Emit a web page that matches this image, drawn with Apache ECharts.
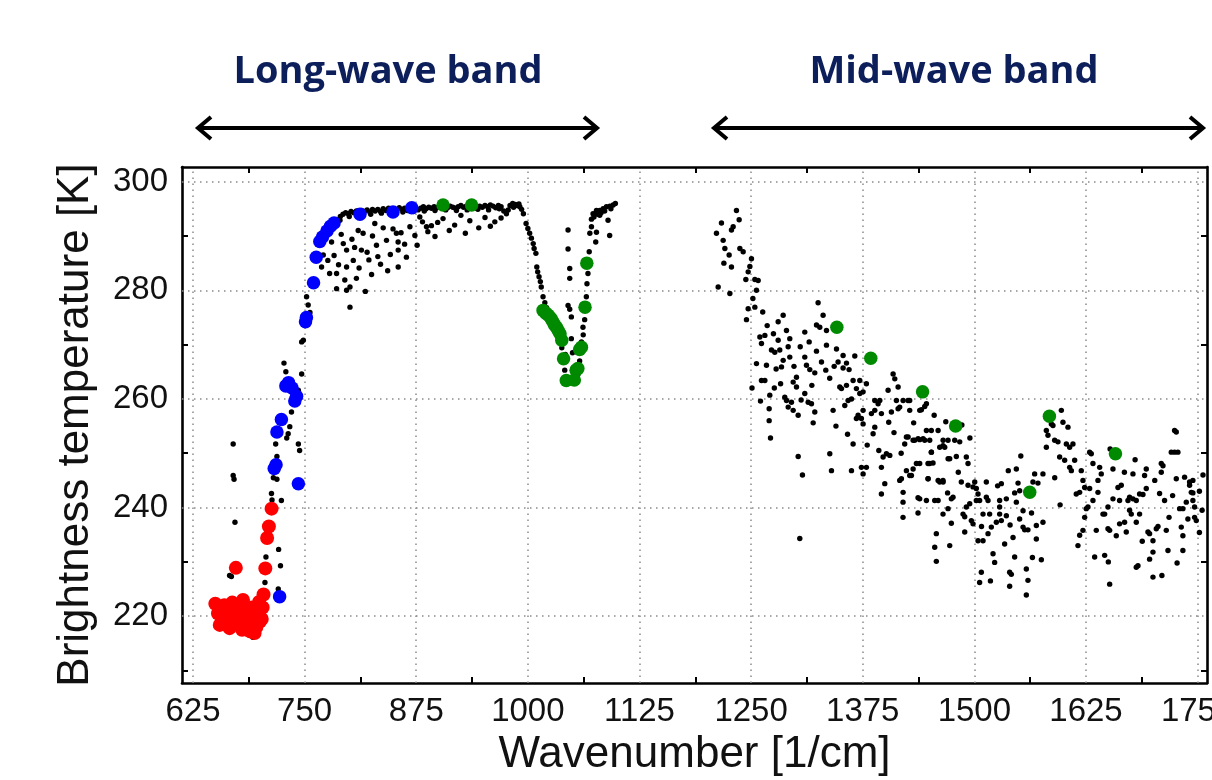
<!DOCTYPE html>
<html><head><meta charset="utf-8">
<script src="https://cdn.jsdelivr.net/npm/echarts@6/dist/echarts.min.js"></script>
<style>html,body{margin:0;padding:0;background:#fff}#c{width:1212px;height:780px}</style>
</head><body><div id="c"></div>
<script>
const X_MIN = 612.7, X_MAX = 1760.5, Y_MIN = 207.7, Y_MAX = 302.7;
const X_TICKS = [625, 750, 875, 1000, 1125, 1250, 1375, 1500, 1625, 1750];
const X_MINOR = [687.5, 812.5, 937.5, 1062.5, 1187.5, 1312.5, 1437.5, 1562.5, 1687.5];
const Y_TICKS = [220, 240, 260, 280, 300];
const Y_MINOR = [210, 230, 250, 270, 290];

const RED = [[650,222.3],[653,220.5],[655,218.4],[658,221.8],[661,219.5],[663,218.9],[665,221.6],[667,220.2],[669,222.5],[670,219.8],[672,218.6],[673,228.9],[675,221.0],[677,219.2],[679,220.6],[681,223.0],[683,221.5],[685,218.2],[687,220.0],[689,217.2],[690,219.8],[692,218.8],[694,216.9],[696,218.0],[698,220.5],[700,219.0],[702,219.5],[703,221.6],[704,224.0],[706,228.8],[708,234.4],[710,236.5],[713,239.8],[660,222.0],[666,217.8],[680,217.5],[691,221.6],[699,222.6]];

const BLUE = [[722,223.6],[743,244.4],[716,247.2],[718,247.9],[719,253.9],[724,256.2],[729,262.4],[732,263.0],[736,262.0],[739,259.6],[741,260.5],[751,274.2],[752,275.0],[760,281.4],[763,286.1],[767,289.0],[770,289.8],[775,290.9],[779,291.8],[783,292.4],[812,294.0],[849,294.4],[870,295.2]];

const GREEN = [[905,295.7],[937,295.7],[1017,276.3],[1020,275.8],[1023,275.4],[1026,274.8],[1028,274.2],[1030,273.6],[1032,273.2],[1034,272.6],[1036,272.0],[1038,270.8],[1040,267.4],[1043,263.4],[1052,263.5],[1054,265.3],[1056,265.6],[1058,269.1],[1060,269.5],[1064,276.9],[1066,285.0],[1346,273.2],[1384,267.5],[1442,261.3],[1479,255.0],[1562,242.8],[1584,256.8],[1658,249.9]];

const LW_BLACK = [[670,251.7],[670,245.9],[671,245.2],[672,237.3],[666,227.5],[668,227.3],[669,217.4],[692,216.1],[705.6,226.2],[706.7,230.9],[720.9,232.3],[723,229.3],[712.9,242.6],[713.5,241.4],[724,241.3],[715,245.5],[719,245.2],[717.6,251.7],[719,249.4],[731.6,253.6],[733.4,254.9],[730,252.8],[743,251.7],[744.4,250.5],[735.3,257.6],[726.9,266.6],[729,265.0],[746.7,264.6],[743,261.6],[744,260.2],[746.7,270.5],[748.6,270.8],[752.2,278.8],[754,277.3],[756,275.9],[751.5,275.1],[720.5,225.0],[660,218.0],[676,221.5],[684,220.3],[697,221.2],[763.5,285.5],[769,284.3],
[770.9,286.5],[780.2,288.9],[789.6,292.9],[793.3,288.6],[797,287.4],[804.5,285.5],[797,284.3],[785.8,283.1],[778,283.1],[800.8,280.6],[795,281.9],[797,280],[785.8,280.3],[800.8,276.9],[813.6,287.4],[815.5,290.5],[828.6,292.3],[830.5,288.3],[841.7,289.2],[852.8,290.5],[854.7,288.9],[854.8,287.4],[854.8,284.3],[867.9,291.7],[873.5,290.1],[879,293.5],[886.5,291.7],[888,290.8],
[935,292.8],[945,291.5],[952,293.4],[963,292.6],[905,293.2],[918,292.0],[896,289.9],[925,293.8],[808,282.2],[822,285.6],[835,284.8],[818,279.8],[846,286.6],[862,288.5],[810,291.0],[826,290.0],[838,291.5],
[776,285.5],[783,286.4],[788,284.7],[791,290.3],[803,289.4],[806,287.9],[811,284.1],[820,287.0],[825,282.9],[832,286.2],[843,283.6],[849,291.3],[858,290.6],[864,286.1],[876,288.3],[882,292.6],[892,291.9],[899,292.5],[912,291.0],[930,290.5],[958,291.8],[970,293.3],
[778,291.4],[782,292.2],[786,293.0],[790,293.6],[793,294.0],[796,294.3],[799,294.1],[802,294.5],[805,294.3],[808,294.6],[811,294.2],[814,294.7],[817,294.5],[820,294.8],[823,294.4],[826,294.9],[829,294.6],[832,294.9],[835,294.5],[838,295.0],[841,294.7],[844,295.1],[847,294.8],[850,295.0],[853,294.6],[856,295.2],[859,294.9],[862,295.1],[865,294.7],[868,295.2],[871,295.0],[874,295.3],[877,294.8],[880,295.1],[883,295.4],[886,295.0],[889,295.3],[892,295.1],[895,295.4],[898,295.2],[901,295.5],[904,295.1],[907,295.4],[910,295.2],[913,295.5],[916,295.3],[919,295.1],[922,295.4],[925,295.6],[928,295.3],[931,295.5],[934,295.2],[937,295.6],[940,295.4],[943,295.1],[946,295.5],[949,295.3],[952,295.6],[955,295.4],[958,295.7],[961,295.5],[964,295.2],[967,295.6],[970,295.4],[973,294.6],[976,294.1],[978,294.8],[980,295.6],[983,296.0],[986,295.8],[988,295.6],[991,295.4],[993,294.9],[995,294.1],[998,292.3],[1000,291.4],[1002,290.5],[1004,289.6],[1006,288.6],[1007,287.7],[1009,286.8],[1010,284.3],[1011,283.4],[1012.5,282.5],[1014,281.6],[1015,280.6],[1017,278.8],[1019,277.7],[1021,276.8],
[800,293.6],[812,293.8],[824,294.0],[836,294.2],[848,294.3],[860,294.4],[872,294.5],[884,294.6],[896,294.7],[908,294.8],[920,294.7],[932,294.8],[944,294.9],[956,294.8],[968,295.0],[984,295.3],[990,295.9],
[1045,291.1],[1045,287.6],[1046.9,284.0],[1046.9,282.2],[1045,277.2],[1046.9,276.5],[1048.7,275.1],[1048.7,271.1],[1041.3,265.3],[1050,268.5],[1038,269.4],[1042,268.2],
[1061.7,273.2],[1063.6,274.6],[1065.5,278.8],[1066.2,281.2],[1067.3,283.1],[1068.7,287.1],[1069.4,290.5],[1071.2,291.7],[1076.8,290.7],[1076,288.9],[1091.6,290.1],[1073,294.1],[1076.8,294.7],[1080.5,294.7],[1084.3,295],[1088,295.4],[1091.8,295.5],[1095.5,295.7],[1071.2,293.1],[1080.5,293.8],[1089.8,292.9],[1074,293.5],[1078,294.0],[1082,294.3],[1086,294.6],[1093,295.0],[1098,296.0],[1060,270.5],[1062,271.8],[1058,267.0],[1056,264.5]];

const MW_BLACK = [[1233.6,294.7],[1236.6,293.0],[1216.8,292.4],[1229.9,291.7],[1228.0,291.1],[1211.2,290.5],[1218.7,289.2],[1220.6,287.7],[1237.4,287.7],[1241.1,287.1],[1225.4,286.5],[1250.4,285.8],[1219.5,285.0],[1228.0,284.3],[1248.6,284.4],[1246.7,283.4],[1244.1,282.0],[1254.2,282.0],[1257.9,281.8],[1256.0,280.0],[1213.1,280.6],[1226.2,279.4],[1246.7,276.6],[1254.2,276.9],[1244.8,274.6],[1259.8,271.4],[1265.4,271.7],[1261.6,270.2],[1280.3,274.2],[1285.9,275.4],[1289.6,272.6],[1280.3,270.8],[1272.8,269.0],[1276.5,268.6],[1282.1,269.0],[1293.3,271.1],[1291.5,269.6],[1285.9,267.1],[1293.3,267.7],[1267.2,266.2],[1284.0,265.9],[1310.1,272.3],[1325.0,277.7],[1330.6,275.4],[1323.2,273.6],[1326.9,273.2],[1334.4,272.6],[1334.4,269.9],[1323.2,268.8],[1328.8,266.8],[1333.6,265.3],[1345.6,269.2],[1353.0,268.0],[1347.4,266.8],[1356.8,266.6],[1353.0,265.7],[1359.7,265.4],[1366.1,267.9],[1321.3,264.8],[1315.7,265.4],[1310.1,267.7],[1312.0,266.2],[1300.8,264.0],[1297.1,263.1],[1300.8,262.2],[1310.1,261.0],[1313.9,259.4],[1317.6,259.1],[1321.3,257.6],[1319.5,255.6],[1291.5,258.5],[1287.7,260.3],[1289.6,259.7],[1295.2,259.4],[1297.1,257.9],[1302.7,257.0],[1270.9,260.7],[1261.6,263.4],[1265.4,263.4],[1260.5,259.6],[1270.2,258.2],[1270.2,256.0],[1271.7,252.8],[1302.7,249.4],[1307.5,246.0],[1338.1,249.9],[1340.0,246.8],[1341.8,257.9],[1349.3,262.2],[1351.2,261.9],[1356.8,262.5],[1358.6,259.7],[1362.4,260.0],[1354.9,258.8],[1364.2,263.4],[1371.7,263.4],[1367.9,261.9],[1369.8,257.0],[1373.5,256.4],[1375.4,261.3],[1379.1,262.8],[1375.4,257.9],[1364.2,251.7],[1362.4,246.8],[1373.5,247.4],[1375.4,246.2],[1388.5,254.8],[1386.6,253.6],[1388.5,259.7],[1394.1,259.7],[1392.2,259.1],[1395.9,257.3],[1397.8,249.3],[1401.5,249.9],[1405.3,249.6],[1395.9,247.4],[1399.7,244.4],[1395.9,242.5],[1404.1,255.7],[1409.0,264.6],[1414.6,262.2],[1403.4,261.6],[1407.1,257.6],[1412.7,259.7],[1414.6,258.2],[1420.2,259.7],[1427.6,259.7],[1427.6,257.9],[1438.8,257.9],[1446.3,259.1],[1420.2,242.8],[1425.8,253.0],[1431.4,252.4],[1437.0,252.7],[1442.6,252.7],[1446.3,254.2],[1450.0,252.4],[1451.9,250.2],[1450.0,248.1],[1459.4,254.2],[1465.0,252.4],[1466.8,251.1],[1470.6,249.0],[1459.4,245.0],[1465.0,244.7],[1459.4,241.3],[1446.3,241.3],[1438.8,241.6],[1418.3,245.3],[1427.6,245.9],[1431.4,247.1],[1438.8,248.1],[1448.2,245.3],[1410.9,263.7],[1388.5,257.9],[1384.7,257.3],[1371.7,261.0],[1367.9,256.4],[1375.4,255.4],[1379.1,247.4],[1304.5,234.3],
[1252,278.5],[1263,276.0],[1268,273.5],[1275,272.0],[1278,265.5],[1298,266.0],[1305,269.6],[1315,270.5],[1338,263.8],[1343,266.0],[1318,262.5],[1306,259.8],[1283,262.8],[1276,262.0],[1256,266.5],[1251,262.0],[1345,255.0],[1358,253.5],[1380,251.5],[1393,250.5],[1410,253.8],[1418,250.0],[1432,255.6],[1455,257.0],[1468,255.8],[1486,255.2],[1495,252.8],[1482,246.5],[1470,242.7],[1508,236.5],[1526,244.0],[1538,246.8],[1552,249.5],[1564,239.0],[1540,236.8],[1518,226.5],[1565,230.8],[1590,245.5],[1596,240.5],[1652,250.8],[1668,246.5],[1680,248.8],[1702,245.0],[1718,238.2],[1722,242.2],[1752,243.0],[1756,246.0],[1755,239.5],[1650,230.0],[1688,233.8],[1710,227.5],[1727,229.8],[1752,235.4],
[1416.4,258.5],[1425.7,259.7],[1440.7,258.0],[1444.4,258.6],[1423.9,253.0],[1422.0,251.7],[1433.2,252.4],[1438.8,252.5],[1444.4,252.4],[1451.8,254.2],[1451.8,250.2],[1448.1,248.1],[1453.7,248.2],[1461.2,251.1],[1464.9,251.4],[1470.5,252.4],[1478.0,252.4],[1483.6,252.1],[1479.8,249.4],[1472.4,249.0],[1491.0,249.3],[1492.9,248.1],[1416.4,245.0],[1423.9,246.8],[1429.5,245.9],[1435.1,248.1],[1448.1,245.3],[1461.2,244.7],[1464.9,245.0],[1485.4,244.7],[1492.9,244.1],[1498.5,243.8],[1500.4,244.7],[1420.1,241.0],[1436.9,241.8],[1455.6,241.3],[1470.5,239.8],[1474.2,241.6],[1476.1,241.9],[1487.3,238.8],[1489.2,238.3],[1494.8,240.7],[1496.6,237.6],[1489.2,235.5],[1502.2,243.5],[1502.2,241.3],[1420.1,238.2],[1436.9,239.0],[1464.9,238.8],[1474.2,237.1],[1457.4,235.2],[1455.6,232.7],[1457.4,230.1],[1472.4,233.0],[1491.0,240.1],[1498.5,237.0],
[1504.1,242.5],[1505.9,241.3],[1513.4,244.7],[1513.4,241.9],[1515.3,241.3],[1509.7,238.8],[1517.1,238.8],[1528.3,241.3],[1535.8,241.6],[1530.2,244.4],[1547.0,247.1],[1548.9,244.5],[1550.7,243.1],[1545.1,242.7],[1528.3,238.8],[1535.8,238.5],[1524.6,237.3],[1530.2,237.6],[1519.0,236.4],[1515.3,235.2],[1509.7,233.9],[1504.1,233.9],[1507.8,228.1],[1505.9,226.2],[1520.9,231.5],[1522.7,229.9],[1533.9,233.3],[1543.3,234.5],[1545.1,230.9],[1539.5,228.1],[1541.4,227.7],[1539.5,225.5],[1554.5,236.4],[1556.3,235.9],[1560.0,235.9],[1569.4,234.2],[1558.2,228.7],[1560.0,226.6],[1558.2,223.9],[1575.0,230.4],[1569.4,236.7],[1576.8,237.3],[1567.5,246.2],[1571.2,244.5],[1576.8,246.2],[1554.5,239.4],[1550.7,237.9],[1565.6,244.7],[1547.0,241.0],[1528.3,240.1],
[1580.6,251.1],[1582.4,253.3],[1580.6,254.2],[1586.2,255.4],[1588.0,255.1],[1589.9,252.4],[1593.6,252.1],[1597.4,257.9],[1599.2,255.7],[1604.8,254.8],[1603.0,251.7],[1606.7,251.1],[1610.4,251.7],[1595.5,249.3],[1601.1,248.7],[1606.7,247.4],[1608.6,246.8],[1612.3,248.7],[1619.7,246.8],[1621.6,245.0],[1617.9,242.8],[1614.1,242.5],[1623.5,243.7],[1623.5,238.2],[1625.3,239.8],[1621.6,235.8],[1617.9,234.9],[1616.0,233.0],
[1629.1,250.2],[1630.9,249.9],[1632.8,248.1],[1640.3,247.4],[1642.1,246.2],[1638.4,245.0],[1629.1,243.5],[1632.8,241.3],[1627.2,240.1],[1638.4,242.8],[1655.2,247.1],[1660.8,243.7],[1664.5,244.1],[1655.2,241.6],[1662.6,241.3],[1644.0,238.8],[1649.6,240.1],[1673.8,241.9],[1672.0,241.3],[1677.6,241.6],[1681.3,241.3],[1685.0,242.5],[1688.8,242.4],[1692.5,243.5],[1677.6,246.2],[1690.6,245.9],[1692.5,247.1],[1709.3,248.1],[1711.2,247.7],[1709.3,246.5],[1707.4,242.6],[1713.0,241.3],[1726.1,245.3],[1720.5,250.2],[1724.2,250.2],[1727.9,250.2],[1724.2,254.2],[1726.1,253.9],[1735.4,245.6],[1741.0,244.7],[1744.7,245.0],[1742.9,242.8],[1737.3,241.0],[1744.7,241.3],[1746.6,240.1],[1739.1,237.9],[1746.6,238.2],[1748.5,237.6],[1733.5,239.8],[1729.8,239.8],[1731.7,236.4],[1733.5,234.8],[1733.5,232.1],[1716.8,232.1],[1714.9,235.8],[1705.6,236.5],[1703.7,236.1],[1700.0,233.9],[1694.4,235.5],[1696.2,235.2],[1685.0,238.8],[1681.3,237.3],[1673.8,239.5],[1675.7,238.8],[1668.2,237.3],[1670.1,235.5],[1662.6,237.0],[1658.9,234.8],[1651.5,235.8],[1649.6,236.1],[1645.9,238.8],[1636.5,235.8],[1634.7,230.9],[1645.9,231.2],[1651.5,225.9],[1683.2,229.3],[1681.3,229.0],[1696.2,230.5],[1700.0,227.2],[1700.0,231.8],[1744.7,242.7],[1741.0,244.1]];

const FONT = '"Liberation Sans", Arial, Helvetica, sans-serif';
const chart = echarts.init(document.getElementById('c'), null, {renderer: 'canvas'});

const gridMarks = X_TICKS.map(v => ({xAxis: v})).concat(Y_TICKS.map(v => ({yAxis: v})));

function axisBase(extra) {
  return Object.assign({
    type: 'value',
    axisLine: {show: true, onZero: false, lineStyle: {color: '#000', width: 2.6}},
    splitLine: {show: false},
    minorTick: {show: false},
  }, extra);
}
const plain = v => String(v);

const option = {
  animation: false,
  backgroundColor: '#fff',
  grid: {left: 182, right: 5, top: 167, bottom: 97, containLabel: false, outerBoundsMode: 'none'},
  xAxis: [
    axisBase({
      position: 'bottom', min: X_MIN, max: X_MAX,
      name: 'Wavenumber [1/cm]', nameLocation: 'middle', nameGap: 45,
      nameTextStyle: {fontFamily: FONT, fontSize: 44, color: '#111'},
      axisTick: {show: true, inside: true, length: 6, customValues: X_MINOR, lineStyle: {color: '#000', width: 2}},
      axisLabel: {show: true, customValues: X_TICKS, formatter: plain, margin: 12, fontFamily: FONT, fontSize: 33, color: '#111', showMinLabel: true, showMaxLabel: true, hideOverlap: false}
    }),
    axisBase({
      position: 'top', min: X_MIN, max: X_MAX,
      axisTick: {show: true, inside: true, length: 6, customValues: X_MINOR, lineStyle: {color: '#000', width: 2}},
      axisLabel: {show: false}
    })
  ],
  yAxis: [
    axisBase({
      position: 'left', min: Y_MIN, max: Y_MAX,
      name: 'Brightness temperature [K]', nameLocation: 'middle', nameGap: 84,
      nameTextStyle: {fontFamily: FONT, fontSize: 44, color: '#111'},
      axisTick: {show: true, inside: true, length: 6, customValues: Y_MINOR, lineStyle: {color: '#000', width: 2}},
      axisLabel: {show: true, customValues: Y_TICKS, formatter: plain, margin: 14, fontFamily: FONT, fontSize: 33, color: '#111'}
    }),
    axisBase({
      position: 'right', min: Y_MIN, max: Y_MAX,
      axisTick: {show: true, inside: true, length: 6, customValues: Y_MINOR, lineStyle: {color: '#000', width: 2}},
      axisLabel: {show: false}
    })
  ],
  series: [
    {
      type: 'scatter', name: 'black', xAxisIndex: 0, yAxisIndex: 0,
      data: LW_BLACK.concat(MW_BLACK), symbol: 'circle', symbolSize: 5.4,
      itemStyle: {color: '#000', opacity: 1}, silent: true, z: 3,
      markLine: {
        silent: true, symbol: ['none', 'none'], z: 1,
        label: {show: false},
        lineStyle: {color: '#8a8a8a', width: 1.5, type: [1.5, 4.5], opacity: 1},
        emphasis: {disabled: true},
        data: gridMarks
      }
    },
    {type: 'scatter', name: 'red', data: RED, symbol: 'circle', symbolSize: 14, itemStyle: {color: '#ff0000', opacity: 1}, silent: true, z: 4},
    {type: 'scatter', name: 'blue', data: BLUE, symbol: 'circle', symbolSize: 13.5, itemStyle: {color: '#0000ff', opacity: 1}, silent: true, z: 4},
    {type: 'scatter', name: 'green', data: GREEN, symbol: 'circle', symbolSize: 13.5, itemStyle: {color: '#008a00', opacity: 1}, silent: true, z: 4}
  ],
  graphic: [
    {type: 'text', x: 388, y: 72, style: {text: 'Long-wave band', font: 'bold 38px "Open Sans", sans-serif', fill: '#0c1f5b', textAlign: 'center', textVerticalAlign: 'middle'}},
    {type: 'text', x: 954, y: 72, style: {text: 'Mid-wave band', font: 'bold 38px "Open Sans", sans-serif', fill: '#0c1f5b', textAlign: 'center', textVerticalAlign: 'middle'}},
    {type: 'line', shape: {x1: 199, y1: 128, x2: 595, y2: 128}, style: {stroke: '#000', lineWidth: 4}},
    {type: 'polyline', shape: {points: [[211, 117], [198, 128], [211, 139]]}, style: {stroke: '#000', lineWidth: 4, fill: null}},
    {type: 'polyline', shape: {points: [[584, 117], [597, 128], [584, 139]]}, style: {stroke: '#000', lineWidth: 4, fill: null}},
    {type: 'line', shape: {x1: 715, y1: 128, x2: 1201, y2: 128}, style: {stroke: '#000', lineWidth: 4}},
    {type: 'polyline', shape: {points: [[727, 117], [714, 128], [727, 139]]}, style: {stroke: '#000', lineWidth: 4, fill: null}},
    {type: 'polyline', shape: {points: [[1190, 117], [1203, 128], [1190, 139]]}, style: {stroke: '#000', lineWidth: 4, fill: null}}
  ]
};
chart.setOption(option);
</script></body></html>
